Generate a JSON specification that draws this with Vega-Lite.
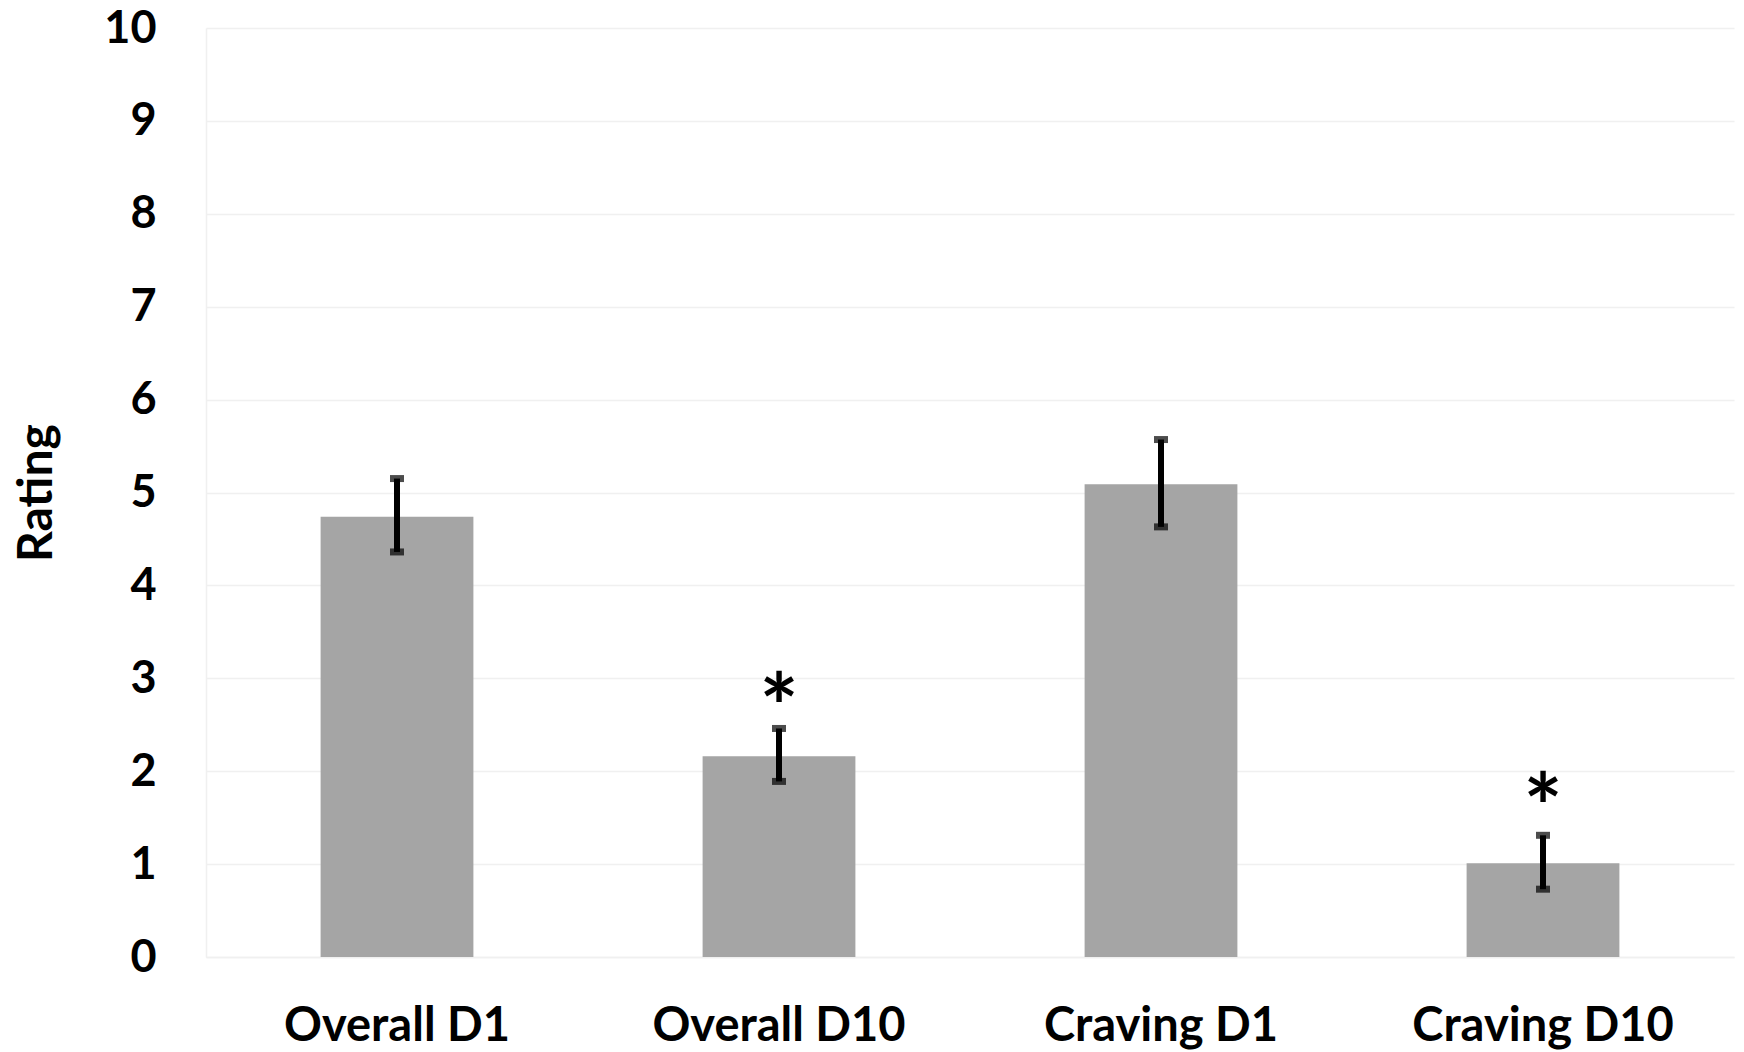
{
  "$schema": "https://vega.github.io/schema/vega-lite/v6.json",
  "width": 1528,
  "height": 929,
  "autosize": {"type": "none"},
  "padding": {"left": 206, "top": 28, "right": 10, "bottom": 95},
  "background": "white",
  "config": {
    "view": {"stroke": null},
    "font": "Lato"
  },
  "data": {
    "values": [
      {"cat": "Overall D1", "mean": 4.74, "lo": 4.36, "hi": 5.15, "star": null},
      {"cat": "Overall D10", "mean": 2.16, "lo": 1.89, "hi": 2.46, "star": 2.91},
      {"cat": "Craving D1", "mean": 5.09, "lo": 4.63, "hi": 5.57, "star": null},
      {"cat": "Craving D10", "mean": 1.01, "lo": 0.73, "hi": 1.31, "star": 1.83}
    ]
  },
  "encoding": {
    "x": {
      "field": "cat",
      "type": "nominal",
      "sort": null,
      "scale": {"paddingInner": 0.6, "paddingOuter": 0.3},
      "axis": {
        "title": null,
        "labelAngle": 0,
        "labelFont": "Lato",
        "labelFontSize": 47,
        "labelFontWeight": "bold",
        "labelColor": "black",
        "labelPadding": 46,
        "labelLimit": 0,
        "ticks": false,
        "domainColor": "#f0f0f0",
        "domainWidth": 1.5
      }
    }
  },
  "layer": [
    {
      "mark": {"type": "bar", "color": "#a5a5a5"},
      "encoding": {
        "y": {
          "field": "mean",
          "type": "quantitative",
          "scale": {"domain": [0, 10], "nice": false},
          "axis": {
            "title": "Rating",
            "titleFont": "Lato",
            "titleFontSize": 48,
            "titleFontWeight": "bold",
            "titleColor": "black",
            "titlePadding": 42,
            "values": [0, 1, 2, 3, 4, 5, 6, 7, 8, 9, 10],
            "format": "d",
            "labelFont": "Lato",
            "labelFontSize": 45,
            "labelFontWeight": "bold",
            "labelColor": "black",
            "labelPadding": 50,
            "ticks": false,
            "domainColor": "#f0f0f0",
            "domainWidth": 1.5,
            "gridColor": "#f0f0f0",
            "gridWidth": 1.5
          }
        }
      }
    },
    {
      "mark": {"type": "rule", "color": "black", "strokeWidth": 6},
      "encoding": {
        "y": {"field": "lo", "type": "quantitative"},
        "y2": {"field": "hi"}
      }
    },
    {
      "mark": {"type": "tick", "color": "black", "thickness": 7, "size": 14},
      "encoding": {"y": {"field": "lo", "type": "quantitative"}}
    },
    {
      "mark": {"type": "tick", "color": "black", "thickness": 7, "size": 14},
      "encoding": {"y": {"field": "hi", "type": "quantitative"}}
    },
    {
      "transform": [{"filter": "datum.star != null"}],
      "mark": {"type": "text", "text": "*", "fontSize": 92, "fontWeight": "bold", "font": "Lato", "color": "black", "baseline": "middle", "dy": 26},
      "encoding": {"y": {"field": "star", "type": "quantitative"}}
    }
  ]
}
